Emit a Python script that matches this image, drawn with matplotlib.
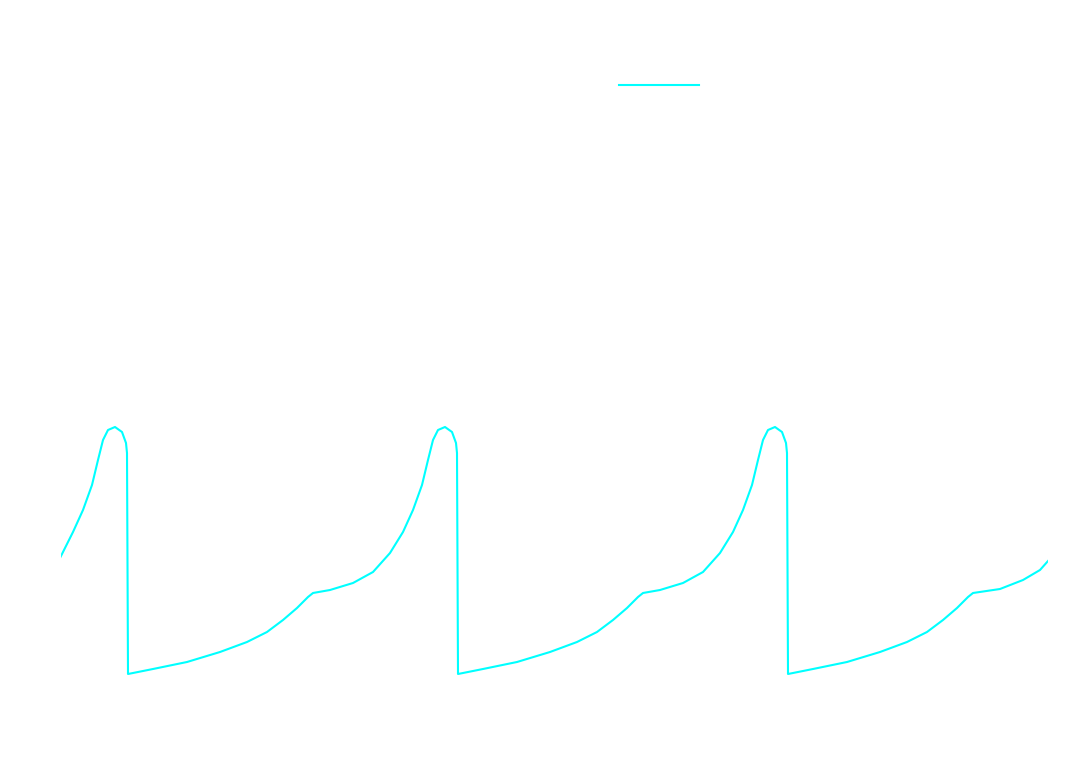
import matplotlib
matplotlib.use('Agg')
import matplotlib.pyplot as plt
import numpy as np

# membrane potential trace (time in ms, potential in mV)
time_ms = [0, 39, 69, 96, 114, 129, 144, 165, 186, 198, 201, 204,
           279, 381, 480, 561, 621, 669, 711, 744, 759, 810, 879, 939, 990, 1029, 1059, 1086,
           1104, 1119, 1134, 1155, 1176, 1188, 1191, 1194,
           1269, 1371, 1470, 1551, 1611, 1659, 1701, 1734, 1749, 1800, 1869, 1929, 1980, 2019, 2049, 2076,
           2094, 2109, 2124, 2145, 2166, 2178, 2181, 2184,
           2259, 2361, 2460, 2541, 2601, 2649, 2691, 2724, 2739, 2820, 2889, 2940, 2964]
voltage_mv = [-23.2, -12.8, -4.0, 6.0, 16.0, 24.0, 28.0, 29.2, 27.2, 22.8, 18.8, -69.6,
              -67.6, -64.8, -60.8, -56.8, -52.8, -48.0, -43.2, -38.8, -37.2, -36.0, -33.2, -28.8, -21.2, -12.8, -4.0, 6.0,
              16.0, 24.0, 28.0, 29.2, 27.2, 22.8, 18.8, -69.6,
              -67.6, -64.8, -60.8, -56.8, -52.8, -48.0, -43.2, -38.8, -37.2, -36.0, -33.2, -28.8, -21.2, -12.8, -4.0, 6.0,
              16.0, 24.0, 28.0, 29.2, 27.2, 22.8, 18.8, -69.6,
              -67.6, -64.8, -60.8, -56.8, -52.8, -48.0, -43.2, -38.8, -37.2, -35.6, -32.0, -28.0, -24.4]

fig = plt.figure(figsize=(10.7, 7.76), dpi=100)
fig.patch.set_facecolor('white')
ax = fig.add_axes([60/1070, 76/776, 988/1070, 640/776])
ax.patch.set_facecolor('white')

ax.plot(time_ms, voltage_mv, '-', color='cyan', linewidth=1.5, label='V (mV)')

ax.set_xlim(0, 2964)
ax.set_ylim(-80, 176)

# everything but the trace is white, as in the original
for s in ax.spines.values():
    s.set_color('white')
ax.tick_params(axis='x', colors='white')
ax.tick_params(axis='y', colors='white')

leg = fig.legend(loc='center left', bbox_to_anchor=(612/1070, 1 - 86/776),
                 frameon=False, borderpad=0, handlelength=5.76, fontsize=10)
for t in leg.get_texts():
    t.set_color('white')

plt.savefig('out.png', dpi=100, facecolor='white')
